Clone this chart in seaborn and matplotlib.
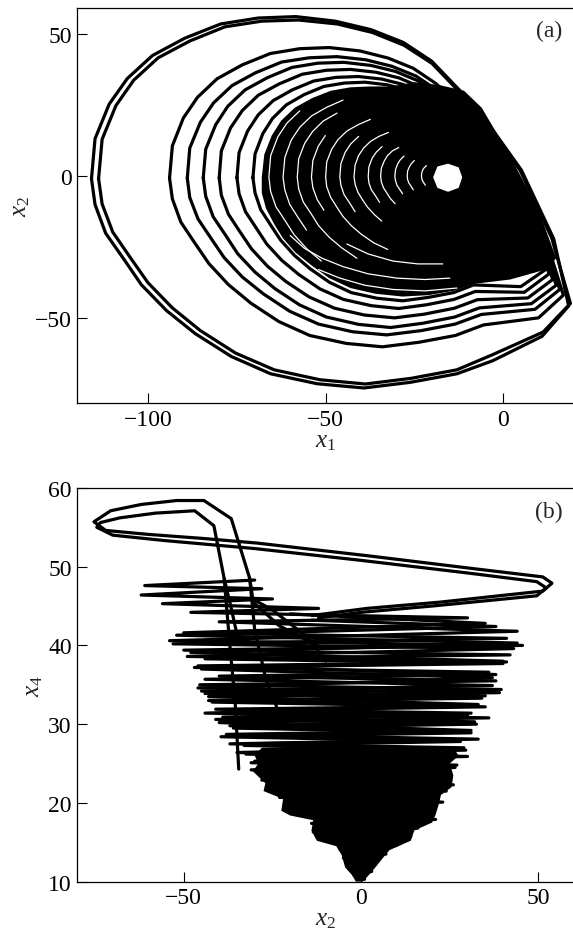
import pandas as pd
import matplotlib
matplotlib.use("Agg")
import matplotlib.pyplot as plt
import seaborn as sns

# =====================
# PANEL (a): x1 vs x2
# =====================
# distinct outer turns of the spiral
o1_x = [-114, -113, -109.1, -104.1, -97.2, -88.3, -78.4, -68, -57.6, -46.7, -36.8, -27.9, -20, -7.1, 4.8, 13.7, 19,
        11.3, -3, -13, -25.9, -38.8, -51.6, -64.5, -75.4, -85.3, -93.2, -100.1, -105.1, -110, -113, -114]
o1_y = [-1, 12.9, 24.8, 33.7, 41.6, 47.5, 52.5, 54.5, 54.9, 53.5, 50.5, 46, 39.6, 22.8, 2, -21.8, -44.9,
        -55, -63, -68.3, -71.3, -73.3, -71.8, -68.3, -62.4, -54.5, -46.5, -37.6, -28.7, -19.8, -9.9, -1]
o2_x = [-116, -115, -111, -105.9, -98.8, -89.7, -79.6, -69, -58.4, -47.3, -37.2, -28.1, -20.1, -6.9, 5.2, 14.3, 18.5,
        11, -2.9, -13, -26.1, -39.2, -52.4, -65.5, -76.6, -86.7, -94.8, -101.9, -106.9, -112, -115, -116]
o2_y = [-1, 13.1, 25.3, 34.3, 42.4, 48.5, 53.5, 55.6, 56.1, 54.5, 51.5, 47, 40.4, 23.2, 2, -22.2, -45.8,
        -56.5, -65.1, -69.7, -72.7, -74.7, -73.2, -69.7, -63.6, -55.6, -47.5, -38.4, -29.3, -20.2, -10.1, -1]
l3_x = [-94, -93.2, -90.1, -86.1, -80.6, -73.5, -65.6, -57.3, -49, -40.3, -32.4, -25.3, -19, -6, 3, 11, 17,
        10, -5.5, -13.4, -23.7, -34, -44.2, -54.5, -63.2, -71.1, -77.4, -82.9, -86.9, -90.8, -93.2, -94]
l3_y = [-0.8, 10.6, 20.4, 27.7, 34.2, 39.1, 43.1, 44.8, 45.2, 44, 41.5, 37.9, 32.6, 18, 1, -18, -42,
        -50, -52.5, -56.2, -58.6, -60.2, -59, -56.2, -51.3, -44.8, -38.3, -30.9, -23.6, -16.3, -8.1, -0.8]
l4_x = [-89, -88.3, -85.3, -81.6, -76.4, -69.8, -62.4, -54.6, -46.8, -38.7, -31.3, -24.6, -18.7, -7, 2.5, 10, 16,
        9, -6.1, -13.5, -23.1, -32.8, -42.4, -52, -60.1, -67.5, -73.5, -78.6, -82.3, -86, -88.3, -89]
l4_y = [-0.8, 9.8, 18.9, 25.7, 31.8, 36.3, 40.1, 41.6, 42, 40.9, 38.6, 35.2, 30.3, 17, 0, -18, -40,
        -47, -48.8, -52.2, -54.5, -56, -54.9, -52.2, -47.7, -41.6, -35.6, -28.8, -22, -15.1, -7.6, -0.8]
l5_x = [-84.5, -83.8, -81, -77.6, -72.7, -66.4, -59.5, -52.2, -44.9, -37.2, -30.3, -24, -18.5, -7.5, 2, 9, 15,
        8, -6.7, -13.6, -22.6, -31.7, -40.7, -49.8, -57.4, -64.3, -69.9, -74.8, -78.2, -81.7, -83.8, -84.5]
l5_y = [-0.7, 9.4, 18, 24.5, 30.3, 34.6, 38.2, 39.7, 40, 38.9, 36.8, 33.5, 28.8, 16, 0, -17, -38.5,
        -45, -46.5, -49.7, -51.9, -53.4, -52.3, -49.7, -45.4, -39.7, -33.9, -27.4, -20.9, -14.4, -7.2, -0.7]
l6_x = [-80, -79.4, -76.8, -73.5, -69, -63.1, -56.6, -49.8, -43, -35.8, -29.3, -23.5, -18.3, -7.5, 1.5, 8.5, 14,
        7, -7.2, -13.7, -22.2, -30.6, -39.1, -47.5, -54.7, -61.2, -66.4, -70.9, -74.2, -77.4, -79.4, -80]
l6_y = [-0.7, 8.8, 16.9, 23, 28.4, 32.4, 35.8, 37.2, 37.5, 36.5, 34.5, 31.4, 27, 15, 0, -16, -36.5,
        -43, -43.6, -46.6, -48.7, -50, -49, -46.6, -42.6, -37.2, -31.8, -25.7, -19.6, -13.5, -6.8, -0.7]
l7_x = [-75, -74.4, -72, -69, -64.8, -59.4, -53.4, -47.1, -40.8, -34.2, -28.2, -22.8, -18, -7.5, 1, 7.5, 13,
        6, -7.8, -13.8, -21.6, -29.4, -37.2, -45, -51.6, -57.6, -62.4, -66.6, -69.6, -72.6, -74.4, -75]
l7_y = [-0.6, 8.2, 15.8, 21.5, 26.5, 30.3, 33.4, 34.7, 35, 34.1, 32.2, 29.3, 25.2, 14, 0, -15, -34.5,
        -41, -40.7, -43.5, -45.4, -46.7, -45.7, -43.5, -39.8, -34.7, -29.7, -24, -18.3, -12.6, -6.3, -0.6]
l8_x = [-70.5, -69.9, -67.7, -65, -61.1, -56.1, -50.5, -44.7, -38.9, -32.8, -27.2, -22.2, -17.8, -7.5, 0.5, 7, 12,
        5, -8.3, -13.9, -21.1, -28.3, -35.5, -42.8, -48.9, -54.4, -58.8, -62.7, -65.5, -68.3, -69.9, -70.5]
l8_y = [-0.6, 7.7, 14.9, 20.2, 25, 28.6, 31.5, 32.7, 33, 32.1, 30.3, 27.7, 23.8, 13, 0, -14, -33,
        -39, -38.4, -41.1, -42.8, -44, -43.1, -41.1, -37.5, -32.7, -28, -22.6, -17.3, -11.9, -6, -0.6]

# saturated core of the attractor and the empty hole at its centre
core_a_x = [-68, -67.3, -65.2, -62.5, -58.7, -53.8, -48.5, -43, -37.5, -31.5, -25, -18, -11, -6, 2, 10, 15, 12,
            2, -8, -14, -21, -28.3, -36, -43, -49, -54, -58.5, -62, -64.5, -66.8, -68, -68]
core_a_y = [-0.6, 7.5, 14.2, 19.5, 24, 27.4, 30, 31.2, 31.5, 31.5, 33, 32, 30, 24, 7, -12, -29, -33,
            -36.5, -38, -40.5, -42, -42.5, -41.5, -39.5, -36, -31.5, -27, -22, -17, -11.5, -6, -0.6]
hole_x = [-19.7, -18.5, -15.5, -12.5, -11.5, -12.5, -15.5, -18.5, -19.7]
hole_y = [-0.5, 3.3, 4.3, 3.0, -0.5, -4.2, -5.6, -4.2, -0.5]

# thin white gaps left between the packed inner turns
gap1_x = [-57.3, -60.9, -63.5, -65.5, -66, -65.5, -64, -61.4, -58.9, -55.3, -51.2]
gap1_y = [22.9, 18.6, 13.7, 7.1, -0.5, -5.5, -10.9, -15.8, -20.7, -25.7, -30]
gap2_x = [-45.1, -49.8, -54, -57.3, -59.7, -61.5, -62, -61.5, -60.1, -57.8, -55.4]
gap2_y = [26.7, 24.1, 21.1, 17.1, 12.6, 6.5, -0.5, -5, -10.1, -14.6, -19.1]
gap3_x = [-46.8, -50.7, -53.7, -55.9, -57.6, -58, -57.6, -56.3, -54.1, -52, -49, -45.5, -41.2]
gap3_y = [22.1, 19.3, 15.6, 11.5, 6, -0.5, -4.6, -9.2, -13.3, -17.5, -21.6, -25.3, -29]
gap4_x = [-50.1, -52.1, -53.6, -54, -53.6, -52.4, -50.5]
gap4_y = [14.2, 10.4, 5.4, -0.4, -4.2, -8.3, -12.1]
gap5_x = [-37.4, -40.9, -44, -46.5, -48.3, -49.7, -50, -49.7, -48.6, -46.9, -45.1, -42.7, -39.9, -36.4, -32.5]
gap5_y = [19.9, 18, 15.8, 12.8, 9.4, 4.9, -0.4, -3.8, -7.5, -10.9, -14.3, -17.6, -20.6, -23.6, -25.9]
gap6_x = [-40.7, -42.9, -44.5, -45.7, -46, -45.7, -44.8, -43.2, -41.7]
gap6_y = [13.9, 11.3, 8.3, 4.3, -0.3, -3.3, -6.6, -9.6, -12.6]
gap7_x = [-32.3, -35, -37.4, -39.3, -40.7, -41.7, -42, -41.7, -40.9, -39.6, -38.2, -36.3, -34.2]
gap7_y = [15.3, 13.9, 12.1, 9.8, 7.2, 3.8, -0.3, -2.9, -5.8, -8.4, -11, -13.6, -15.9]
gap8_x = [-34.1, -35.7, -36.9, -37.8, -38, -37.8, -37.1, -35.9, -34.8]
gap8_y = [10.3, 8.4, 6.2, 3.2, -0.2, -2.5, -4.9, -7.1, -9.3]
gap9_x = [-29.4, -31.2, -32.6, -33.5, -34.3, -34.5, -34.3, -33.7, -32.7, -31.8, -30.4]
gap9_y = [10, 8.8, 7.1, 5.2, 2.7, -0.2, -2.1, -4.2, -6.1, -7.9, -9.8]
gap10_x = [-27.9, -29, -29.7, -30.3, -30.5, -30.3, -29.9, -29.1, -28.3]
gap10_y = [7, 5.6, 4.2, 2.2, -0.2, -1.7, -3.3, -4.8, -6.3]
gap11_x = [-25, -25.8, -26.4, -26.9, -27, -26.9, -26.5, -25.9, -25.3]
gap11_y = [5.4, 4.4, 3.2, 1.7, -0.1, -1.3, -2.6, -3.7, -4.9]
gap12_x = [-21.6, -22.2, -22.6, -22.9, -23, -22.9, -22.7, -22.3, -21.9]
gap12_y = [3.6, 2.9, 2.2, 1.1, 0, -0.9, -1.7, -2.5, -3.3]
gap13_x = [-60, -56, -51, -45, -38, -30, -22, -15]
gap13_y = [-21, -25.5, -29, -32, -34.5, -36, -36.5, -36]
gap14_x = [-52, -46, -39, -31, -22, -13]
gap14_y = [-33, -36, -38.5, -40, -40.5, -39.5]
gap15_x = [-44, -38, -31, -24, -17]
gap15_y = [-24, -27.5, -30, -31, -31]

# =====================
# PANEL (b): x2 vs x4
# =====================
top1_x = [-10.8, -23.1, -30.4, -31.4, -36.6, -44.3, -52, -62, -70.6, -75.3, -72, -60, -45, -29.4, 1.6, 32.6, 51.2, 53.8, 51.2, 22.3, 1.6, -13.8]
top1_y = [39.6, 42.5, 45.5, 48.5, 56.1, 58.4, 58.4, 57.9, 57.1, 55.7, 54.6, 54.1, 53.6, 53.0, 51.4, 49.7, 48.7, 47.9, 46.9, 45.5, 44.7, 43.8]
top2_x = [-34.5, -36.6, -38.6, -41.5, -46.9, -58, -68, -73.5, -74.5, -70, -55, -30, 0, 30, 49.5, 52.2, 49.5, 20, 0, -12]
top2_y = [40.4, 44.7, 48.5, 55.2, 57.1, 56.8, 56.2, 55.6, 55.0, 54.0, 53.3, 52.3, 50.8, 49.2, 48.1, 47.3, 46.3, 45.0, 44.2, 43.5]
strand1_x = [-38.6, -37, -35.5, -34.5]
strand1_y = [48.5, 40, 32.8, 24.3]
strand2_x = [-31.4, -30, -27, -22]
strand2_y = [48.5, 42, 36, 30]
strand3_x = [-31, -25, -15, -10]
strand3_y = [46, 44.5, 41, 38]

osc1_x = [-30, -61, -28, -62, -25, -56, -12, -48, 30, -40, 44, -54, 45.5, -50, 42, -44, 40, -47, 36, -40,
          38, -45.5, 39.5, -44, 34, -42, 35, -38, 30, -41, 32.5, -36, 31, -39.5, 28, -33, 29.5, -32.5, 25, -31,
          26.5, -29, 24, -28, 26, -25, 22, -23, 23, -21, 20, -18, 21, -14, 16, -13.5, 14, -10, 10, -6,
          7, -5, 4, -3.5, 3, -2, 1]
osc1_y = [48.3, 47.6, 47.2, 46.4, 45.9, 45.3, 44.7, 44.2, 43.5, 43.0, 41.8, 40.6, 40.0, 39.4, 38.8, 38.3, 37.7, 37.2, 36.6, 36.1,
          35.5, 35.0, 34.4, 33.9, 33.3, 32.8, 32.2, 31.7, 31.1, 30.6, 30.0, 29.5, 28.9, 28.4, 27.8, 27.3, 26.7, 26.2, 25.6, 25.1,
          24.5, 24.0, 23.4, 22.9, 22.3, 21.8, 21.2, 20.7, 20.1, 19.6, 19.0, 18.5, 17.9, 17.4, 16.8, 16.3, 15.7, 15.2, 14.6, 14.1,
          13.5, 13.0, 12.4, 11.9, 11.3, 10.8, 10.3]
osc2_x = [-14, 38, -52, 44, -48, 40, -45, 37, -46, 39, -43, 33, -44, 36, -40, 31, -38, 33, -37, 29,
          -35, 30, -30, 27, -31, 25, -27, 23, -25, 24, -22, 20, -19]
osc2_y = [43.2, 42.4, 41.3, 40.3, 39.1, 38.0, 37.0, 35.9, 34.6, 34.0, 33.5, 32.5, 31.4, 30.8, 30.2, 29.2, 28.7, 28.1, 27.5, 27.0,
          26.4, 25.9, 25.3, 24.8, 24.2, 23.7, 23.1, 22.6, 22.0, 21.5, 20.9, 20.4, 19.8]
osc3_x = [-20, 35, -50, 41, -53, 43, -49, 41, -46, 38, -44, 37, -45, 35, -43, 33, -41, 31, -39, 32,
          -37, 28, -34, 27, -32, 26, -30, 25, -28, 24, -26, 22, -24, 21]
osc3_y = [44.0, 42.8, 41.6, 40.9, 40.2, 39.6, 38.6, 37.9, 37.4, 36.3, 35.7, 34.9, 34.2, 33.6, 33.0, 32.3, 31.9, 31.4, 30.9, 30.3,
          29.8, 29.1, 28.6, 28.0, 27.5, 26.9, 26.4, 25.8, 25.3, 24.7, 24.2, 23.6, 23.1, 22.5]

# solid lower part of the cone
core_b_x = [-28, -30, -29, -30.5, -27, -27.5, -22, -22.5, -20, -13.5, -14, -12.5, -7, -5.5, -4.5, -2.5, -1.5,
            0.5, 2.5, 4, 6.5, 8, 14, 15, 20, 21, 22, 22.5, 25.5, 26, 25, 27.5, 26, 10, -10, -28]
core_b_y = [27, 26, 25, 24, 22.5, 21.5, 20.5, 19, 18.4, 17.8, 16.5, 15.2, 14.5, 13.4, 11.8, 10.8, 10,
            10, 11, 11.8, 13.2, 14, 15.2, 16.5, 17.5, 18.5, 20, 21, 22, 23.5, 25, 26, 27, 27.3, 27.2, 27]


def paths_frame(paths):
    rows = []
    for i, (xs, ys) in enumerate(paths):
        for j, (x, y) in enumerate(zip(xs, ys)):
            rows.append((i, j, x, y))
    return pd.DataFrame(rows, columns=["path", "order", "x", "y"])


def draw(ax, paths, color, lw, z):
    sns.lineplot(data=paths_frame(paths), x="x", y="y", units="path", estimator=None,
                 sort=False, color=color, lw=lw, ax=ax, legend=False, zorder=z,
                 solid_joinstyle="round", solid_capstyle="round")


sns.set_style("ticks")
plt.rcParams["font.family"] = ["Liberation Serif", "DejaVu Serif"]
plt.rcParams["mathtext.fontset"] = "custom"
plt.rcParams["mathtext.it"] = "Liberation Serif:italic"
plt.rcParams["mathtext.rm"] = "Liberation Serif"

fig = plt.figure(figsize=(5.73, 9.37), dpi=100)
ax_a = fig.add_axes([0.1349, 0.5688, 0.8668, 0.4212])
ax_b = fig.add_axes([0.1349, 0.0580, 0.8668, 0.4202])

# ---- panel (a)
ax_a.fill(core_a_x, core_a_y, color="black", lw=0, zorder=1)
draw(ax_a, [(o1_x, o1_y), (o2_x, o2_y), (l3_x, l3_y), (l4_x, l4_y), (l5_x, l5_y),
            (l6_x, l6_y), (l7_x, l7_y), (l8_x, l8_y)], "black", 2.3, 2)
draw(ax_a, [(gap1_x, gap1_y), (gap2_x, gap2_y), (gap3_x, gap3_y), (gap4_x, gap4_y),
            (gap5_x, gap5_y), (gap6_x, gap6_y), (gap7_x, gap7_y), (gap8_x, gap8_y),
            (gap9_x, gap9_y), (gap10_x, gap10_y), (gap11_x, gap11_y), (gap12_x, gap12_y),
            (gap13_x, gap13_y), (gap14_x, gap14_y), (gap15_x, gap15_y)], "white", 0.9, 3)
ax_a.fill(hole_x, hole_y, color="white", lw=0, zorder=4)
ax_a.set_xlim(-120, 20)
ax_a.set_ylim(-80, 59)
ax_a.set_xticks([-100, -50, 0])
ax_a.set_yticks([-50, 0, 50])
ax_a.set_xlabel("$x_1$", fontsize=18, labelpad=0)
ax_a.set_ylabel("$x_2$", fontsize=18, labelpad=2)
ax_a.text(0.95, 0.945, "(a)", transform=ax_a.transAxes, ha="center", va="center", fontsize=17)

# ---- panel (b)
ax_b.fill(core_b_x, core_b_y, color="black", lw=0, zorder=1)
draw(ax_b, [(top1_x, top1_y), (top2_x, top2_y), (strand1_x, strand1_y), (strand2_x, strand2_y),
            (strand3_x, strand3_y), (osc1_x, osc1_y), (osc2_x, osc2_y), (osc3_x, osc3_y)], "black", 2.3, 2)
ax_b.set_xlim(-80, 60)
ax_b.set_ylim(10, 60)
ax_b.set_xticks([-50, 0, 50])
ax_b.set_yticks([10, 20, 30, 40, 50, 60])
ax_b.set_xlabel("$x_2$", fontsize=18, labelpad=0)
ax_b.set_ylabel("$x_4$", fontsize=18, labelpad=2)
ax_b.text(0.95, 0.939, "(b)", transform=ax_b.transAxes, ha="center", va="center", fontsize=17)

for ax in (ax_a, ax_b):
    ax.tick_params(direction="in", length=7, width=0.8, labelsize=17, pad=4,
                   top=False, right=False, colors="black")
    ax.spines["right"].set_visible(False)
    for s in ("left", "bottom", "top"):
        ax.spines[s].set_linewidth(0.9)
        ax.spines[s].set_color("black")

fig.savefig("out.png", dpi=100)
